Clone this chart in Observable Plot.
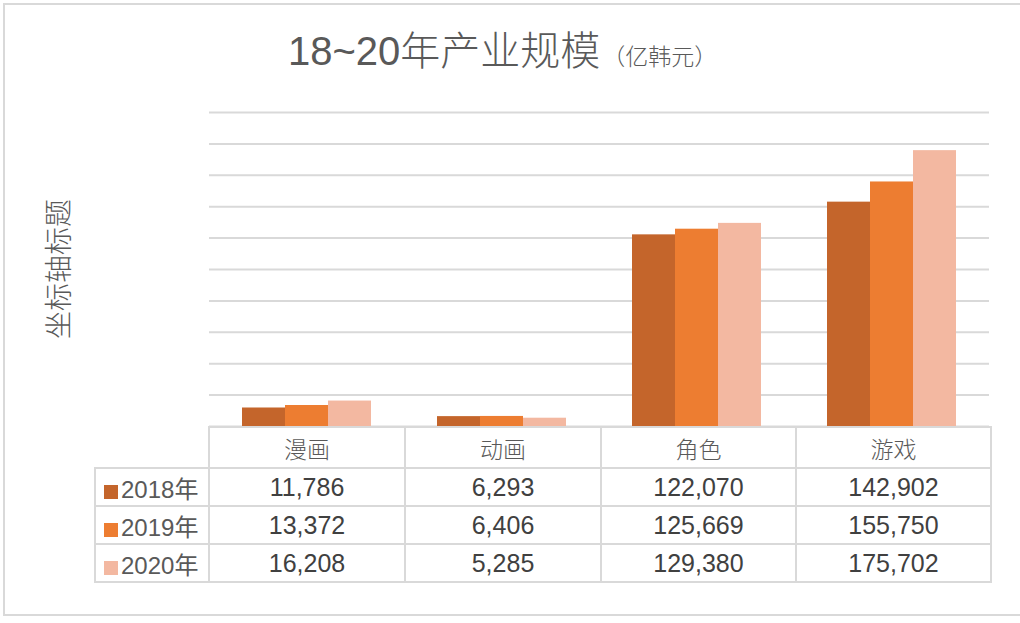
<!DOCTYPE html>
<html><head><meta charset="utf-8">
<script src="https://cdn.jsdelivr.net/npm/d3@7"></script>
<script src="https://cdn.jsdelivr.net/npm/@observablehq/plot@0.6"></script>
<style>
body{margin:0;background:#fff;}
#wrap{position:relative;width:1020px;height:623px;overflow:hidden;font-family:"Liberation Sans","Noto Sans CJK SC",sans-serif;color:#595959;background:#fff;}
#wrap svg{position:absolute;left:0;top:0;}
#frame{position:absolute;left:3px;top:3px;width:1040px;height:613px;border:2px solid #d9d9d9;box-sizing:border-box;}
#title{position:absolute;left:288px;top:19px;white-space:nowrap;color:#595959;}
#title .main{font-size:40px;font-weight:300;}
#title .unit{font-size:23px;font-weight:300;margin-left:2px;}
#ytitle{position:absolute;left:57px;top:269px;transform:translate(-50%,-50%) rotate(-90deg);font-size:28px;font-weight:300;white-space:nowrap;color:#595959;font-family:"Noto Sans CJK SC",sans-serif;}
#tbl{position:absolute;left:94px;top:426px;border-collapse:collapse;table-layout:fixed;}
#tbl td{border:2px solid #d9d9d9;padding:0;text-align:center;color:#404040;font-size:25px;}
#tbl tr.head td{height:39px;font-size:23px;color:#595959;font-family:"Noto Sans CJK SC",sans-serif;font-weight:300;}
#tbl tr.head td.blank{border-top:hidden;border-left:hidden;}
#tbl tr.row td{height:36px;}
#tbl td.leg{text-align:left;padding-left:8px;color:#595959;white-space:nowrap;font-size:24px;}
#tbl .sw{display:inline-block;width:14px;height:14px;margin-right:3px;vertical-align:-1px;}
</style></head><body><div id="wrap"><div id="frame"></div></div>
<script>
const categories = ["漫画", "动画", "角色", "游戏"];
const years = ["2018年", "2019年", "2020年"];
const v2018 = [11786, 6293, 122070, 142902];
const v2019 = [13372, 6406, 125669, 155750];
const v2020 = [16208, 5285, 129380, 175702];
const seriesColors = ["#C4652B", "#ED7D31", "#F3B8A1"];
const titleText = "18~20年产业规模";
const unitText = "（亿韩元）";
const yAxisTitle = "坐标轴标题";

const series = [v2018, v2019, v2020];
const rows = [];
categories.forEach((c, i) => years.forEach((y, j) => rows.push({category: c, year: y, value: series[j][i]})));

const chart = Plot.plot({
  width: 1020, height: 623,
  marginLeft: 208, marginRight: 30, marginTop: 112, marginBottom: 197,
  style: {background: "transparent"},
  fx: {domain: categories, paddingInner: 0, paddingOuter: 0, axis: null, label: null},
  x: {domain: years, paddingInner: 0, paddingOuter: 0.744, axis: null},
  y: {domain: [0, 200000], axis: null},
  color: {domain: years, range: seriesColors},
  marks: [
    Plot.gridY({ticks: 10, stroke: "#d9d9d9", strokeOpacity: 1, strokeWidth: 2}),
    Plot.barY(rows, {fx: "category", x: "year", y: "value", fill: "year"})
  ]
});
const wrap = document.getElementById("wrap");
wrap.appendChild(chart);

const t = document.createElement("div");
t.id = "title";
t.innerHTML = `<span class="main">${titleText}</span><span class="unit">${unitText}</span>`;
wrap.appendChild(t);

const yt = document.createElement("div");
yt.id = "ytitle";
yt.textContent = yAxisTitle;
wrap.appendChild(yt);

const fmt = d3.format(",");
const tbl = document.createElement("table");
tbl.id = "tbl";
const colg = document.createElement("colgroup");
[114, 196, 196, 195, 195].forEach(w => { const c = document.createElement("col"); c.style.width = w + "px"; colg.appendChild(c); });
tbl.appendChild(colg);
const hr = document.createElement("tr"); hr.className = "head";
const blank = document.createElement("td"); blank.className = "blank"; hr.appendChild(blank);
categories.forEach(c => { const td = document.createElement("td"); td.textContent = c; hr.appendChild(td); });
tbl.appendChild(hr);
years.forEach((y, j) => {
  const tr = document.createElement("tr"); tr.className = "row";
  const lg = document.createElement("td"); lg.className = "leg";
  lg.innerHTML = `<span class="sw" style="background:${seriesColors[j]}"></span>${y}`;
  tr.appendChild(lg);
  series[j].forEach(v => { const td = document.createElement("td"); td.textContent = fmt(v); tr.appendChild(td); });
  tbl.appendChild(tr);
});
wrap.appendChild(tbl);
</script></body></html>
